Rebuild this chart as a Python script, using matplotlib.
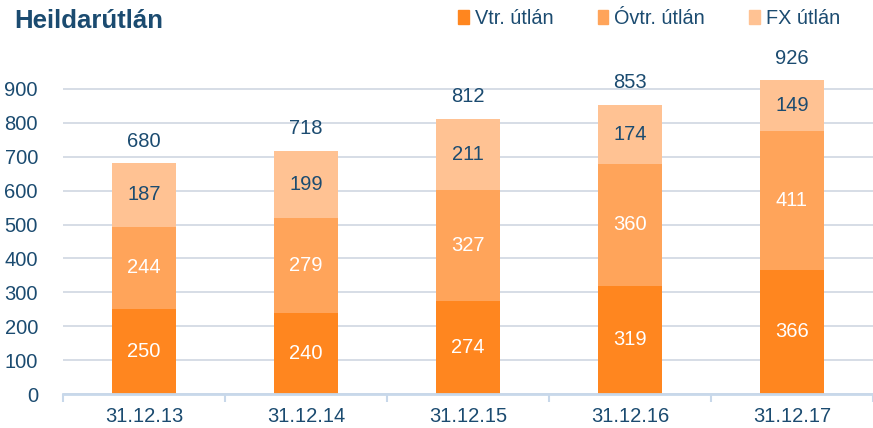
import numpy as np
import matplotlib.pyplot as plt
from matplotlib.patches import Patch

plt.rcParams['font.family'] = ['Liberation Sans', 'DejaVu Sans']

dates = ["31.12.13", "31.12.14", "31.12.15", "31.12.16", "31.12.17"]
vtr = [250, 240, 274, 319, 366]
ovtr = [244, 279, 327, 360, 411]
fx = [187, 199, 211, 174, 149]
totals = [680, 718, 812, 853, 926]

c_vtr = "#FF861F"
c_ovtr = "#FFA45A"
c_fx = "#FFC293"
navy = "#1B4B70"

fig = plt.figure(figsize=(8.73, 4.28), dpi=100)
ax = fig.add_axes([63/873, 34/428, 810/873, 370/428])

x = np.arange(len(dates))
w = 0.40
b1 = ax.bar(x, vtr, w, color=c_vtr, zorder=3)
b2 = ax.bar(x, ovtr, w, bottom=vtr, color=c_ovtr, zorder=3)
bottom3 = np.array(vtr) + np.array(ovtr)
b3 = ax.bar(x, fx, w, bottom=bottom3, color=c_fx, zorder=3)

ax.bar_label(b1, label_type="center", color="white", fontsize=14.5)
ax.bar_label(b2, label_type="center", color="white", fontsize=14.5)
ax.bar_label(b3, label_type="center", color=navy, fontsize=14.5)
ax.bar_label(b3, labels=[str(t) for t in totals], padding=9, color=navy, fontsize=14.5)

ax.set_xlim(-0.5, len(dates) - 0.5)
ax.set_ylim(0, 900 * 370 / 305)
ax.set_yticks(range(0, 1000, 100))
ax.set_xticks(x)
ax.set_xticklabels(dates)
ax.set_xticks(np.arange(-0.5, len(dates), 1), minor=True)

ax.grid(axis="y", color="#D0D7E2", linewidth=1.2, zorder=0)
for s in ["top", "right", "left"]:
    ax.spines[s].set_visible(False)
ax.spines["bottom"].set_color("#C8D8EA")
ax.spines["bottom"].set_linewidth(2)
ax.spines["bottom"].set_zorder(4)

ax.tick_params(axis="y", length=0, pad=18, labelsize=14.5, labelcolor=navy)
ax.tick_params(axis="x", which="major", length=0, pad=9, labelsize=14.5, labelcolor=navy)
ax.tick_params(axis="x", which="minor", length=6, width=1.5, color="#C8D8EA")

fig.text(14/873, 1 - 21/428, "Heildarútlán", fontsize=18.5, fontweight="bold",
         color=navy, va="center", ha="left")

handles = [Patch(color=c_vtr), Patch(color=c_ovtr), Patch(color=c_fx)]
fig.legend(handles, ["Vtr. útlán", "Óvtr. útlán", "FX útlán"],
           loc="center right", bbox_to_anchor=(840/873, 1 - 18/428), ncol=3,
           frameon=False, fontsize=14.3, labelcolor=navy,
           handlelength=0.55, handleheight=0.7, handletextpad=0.3,
           columnspacing=2.2, borderaxespad=0, borderpad=0)

plt.savefig("out.png", dpi=100)
